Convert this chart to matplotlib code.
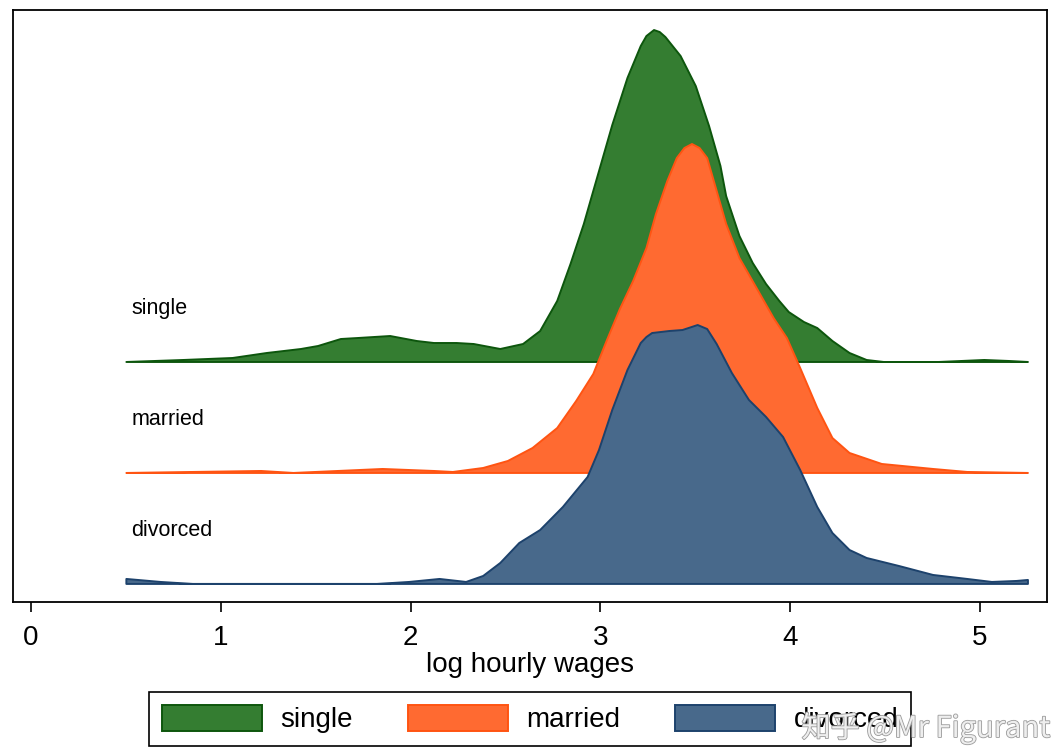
import numpy as np
import matplotlib.pyplot as plt
import matplotlib.patheffects as pe
from matplotlib.patches import Patch

plt.rcParams["font.family"] = ["Liberation Sans", "DejaVu Sans"]

# density of log hourly wages per marital status (height above each row's baseline)
single_x = [0.50, 0.80, 1.06, 1.24, 1.42, 1.51, 1.63, 1.72, 1.89, 2.03,
            2.12, 2.24, 2.33, 2.47, 2.59, 2.68, 2.77, 2.84, 2.91, 2.96,
            3.01, 3.06, 3.14, 3.21, 3.24, 3.28, 3.31, 3.34, 3.42, 3.50,
            3.57, 3.63, 3.66, 3.73, 3.80, 3.87, 3.94, 3.99, 4.07, 4.14,
            4.22, 4.31, 4.40, 4.49, 4.78, 5.02, 5.15, 5.25]
single_d = [0.000, 0.018, 0.036, 0.081, 0.117, 0.144, 0.207, 0.216, 0.234, 0.189,
            0.171, 0.171, 0.162, 0.117, 0.162, 0.279, 0.550, 0.883, 1.243, 1.541,
            1.838, 2.135, 2.559, 2.847, 2.937, 2.991, 2.973, 2.928, 2.757, 2.486,
            2.126, 1.766, 1.495, 1.135, 0.892, 0.703, 0.550, 0.450, 0.360, 0.306,
            0.189, 0.081, 0.018, 0.000, 0.000, 0.018, 0.009, 0.000]

married_x = [0.50, 0.85, 1.21, 1.38, 1.85, 2.12, 2.22, 2.38, 2.51, 2.64, 2.77,
             2.87, 2.96, 3.03, 3.10, 3.17, 3.24, 3.29, 3.35, 3.40, 3.44,
             3.48, 3.52, 3.56, 3.61, 3.66, 3.73, 3.82, 3.91, 3.98, 4.05,
             4.14, 4.22, 4.31, 4.48, 4.75, 4.93, 5.25]
married_d = [0.000, 0.009, 0.018, 0.000, 0.036, 0.018, 0.009, 0.045, 0.108, 0.225, 0.405,
             0.649, 0.892, 1.189, 1.477, 1.730, 2.027, 2.333, 2.631, 2.838, 2.928,
             2.964, 2.928, 2.838, 2.541, 2.243, 1.937, 1.667, 1.396, 1.216, 0.946,
             0.586, 0.315, 0.180, 0.081, 0.036, 0.009, 0.000]

divorced_x = [0.50, 0.68, 0.85, 1.82, 1.99, 2.15, 2.29, 2.38, 2.47, 2.57,
              2.68, 2.80, 2.93, 2.99, 3.06, 3.14, 3.21, 3.24, 3.27, 3.36,
              3.43, 3.51, 3.56, 3.61, 3.69, 3.78, 3.87, 3.96, 4.05, 4.14,
              4.22, 4.31, 4.40, 4.57, 4.75, 4.93, 5.06, 5.19, 5.25]
divorced_d = [0.045, 0.018, 0.000, 0.000, 0.018, 0.045, 0.018, 0.072, 0.189, 0.369,
              0.486, 0.694, 0.964, 1.207, 1.568, 1.928, 2.171, 2.225, 2.261, 2.279,
              2.288, 2.333, 2.297, 2.162, 1.901, 1.658, 1.505, 1.324, 1.027, 0.694,
              0.459, 0.306, 0.234, 0.162, 0.081, 0.045, 0.018, 0.027, 0.036]

groups = ["single", "married", "divorced"]
baselines = [2, 1, 0]
fill_colors = ["#347d31", "#ff6a31", "#48698b"]
edge_colors = ["#0d560d", "#ff5412", "#1d426c"]
xticks = [0, 1, 2, 3, 4, 5]

series = [(single_x, single_d), (married_x, married_d), (divorced_x, divorced_d)]

fig = plt.figure(figsize=(10.53, 7.52), dpi=100)
ax = fig.add_axes([0.0121, 0.1995, 0.9822, 0.7872])

# rows stacked top-down, lower rows drawn over the upper ones
for i, (name, base, (xs, ds)) in enumerate(zip(groups, baselines, series)):
    xs = np.asarray(xs)
    top = base + np.asarray(ds)
    ax.fill_between(xs, base, top, facecolor=fill_colors[i],
                    edgecolor=edge_colors[i], linewidth=1.4, zorder=2 + i)
    ax.text(0.53, base + 0.48, name, fontsize=15.5, va="center", ha="left",
            zorder=10)

ax.set_xlim(-0.096, 5.353)
ax.set_ylim(-0.167, 5.167)
ax.set_xticks(xticks)
ax.set_xticklabels([str(t) for t in xticks], fontsize=20)
ax.set_yticks([])
ax.tick_params(axis="x", direction="out", length=7.5, width=1.2, pad=9)
ax.set_xlabel("log hourly wages", fontsize=20, labelpad=1)
for s in ax.spines.values():
    s.set_linewidth(1.3)
    s.set_color("black")

handles = [Patch(facecolor=fc, edgecolor=ec, linewidth=1.4)
           for fc, ec in zip(fill_colors, edge_colors)]
leg = fig.legend(handles, groups, loc="center",
                 bbox_to_anchor=(530 / 1053, 1 - 719 / 752), ncol=3,
                 fontsize=20, fancybox=False, edgecolor="black",
                 handlelength=3.6, handleheight=1.05, handletextpad=0.65,
                 columnspacing=2.0, borderpad=0.45, framealpha=1)
leg.get_frame().set_linewidth(1.2)

fig.text(1050 / 1053, 1 - 737 / 752, "知乎 @Mr Figurant", ha="right",
         va="baseline", fontsize=21, color="#eeeeee",
         family=["Noto Sans CJK SC", "DejaVu Sans"],
         path_effects=[pe.withStroke(linewidth=1.2, foreground="#9a9a9a")],
         zorder=20)

fig.savefig("out.png", dpi=100)
